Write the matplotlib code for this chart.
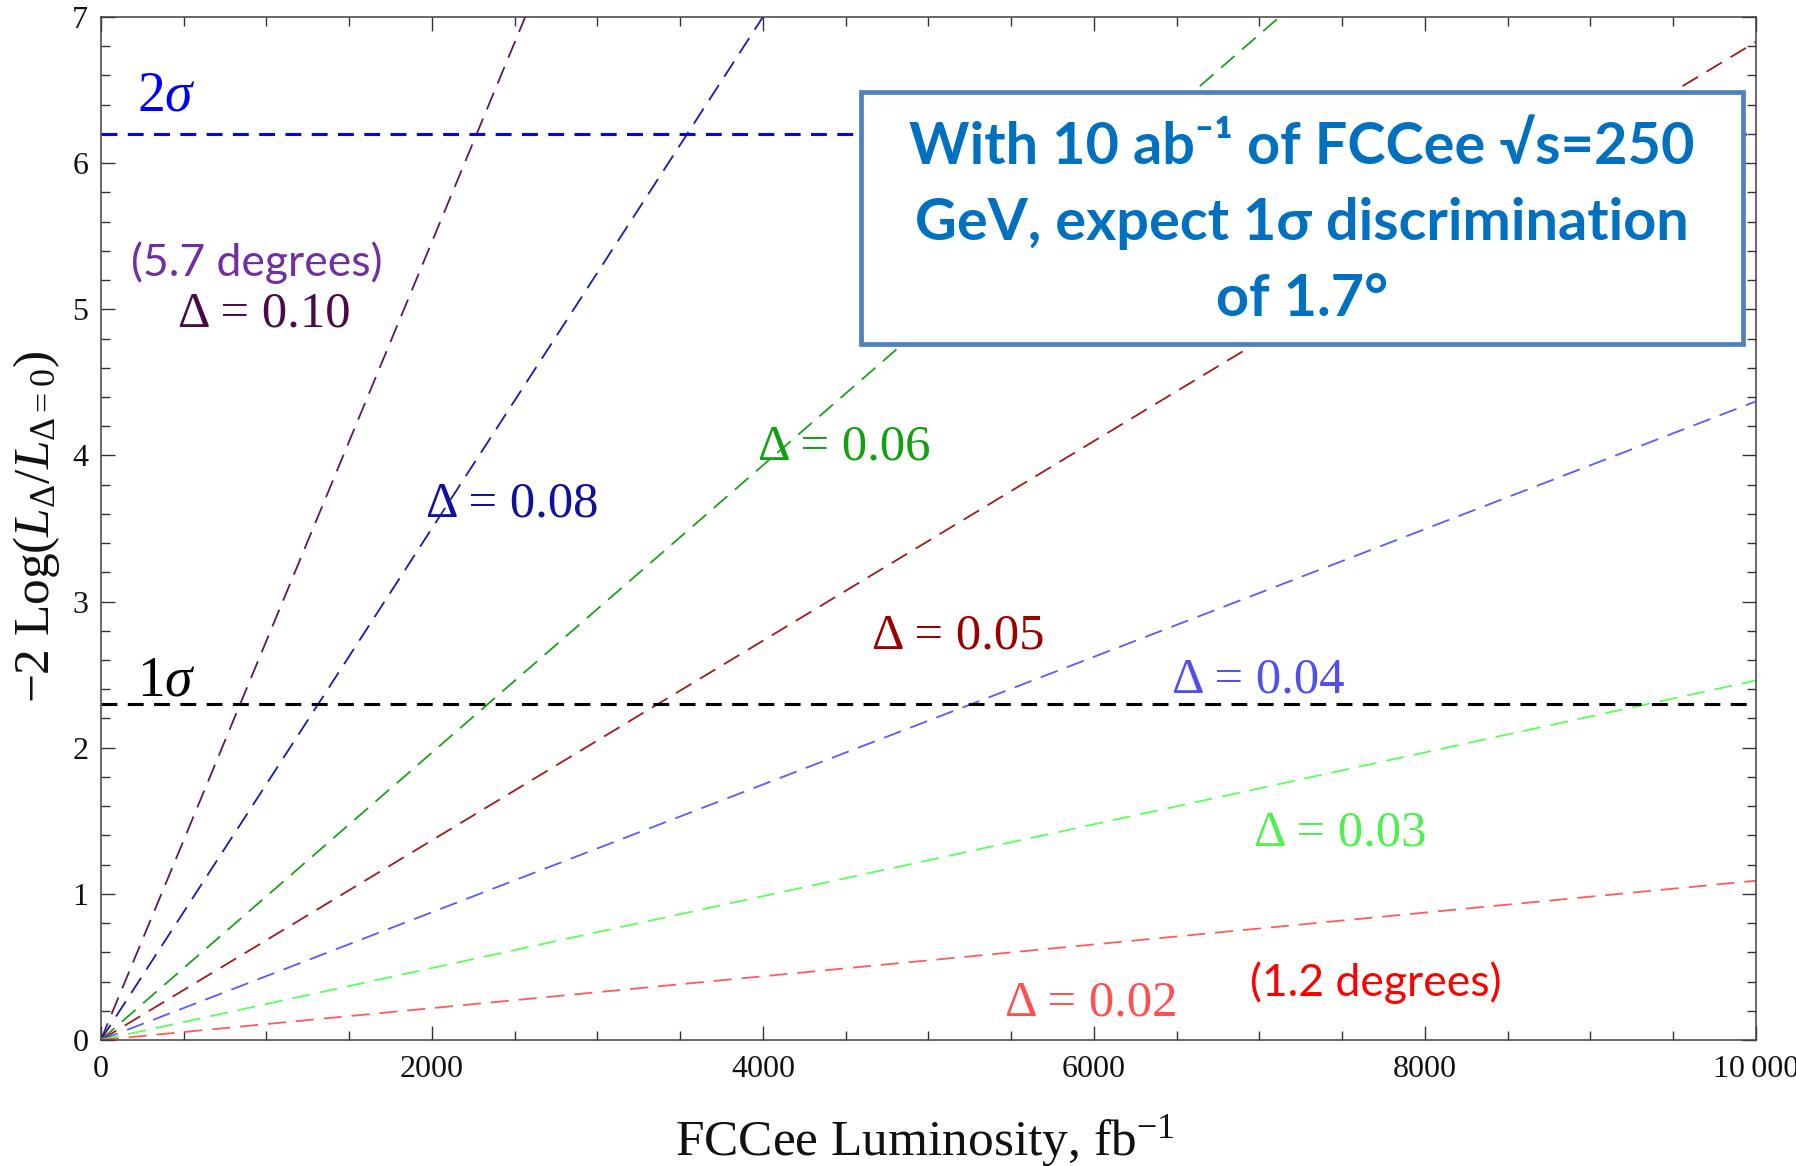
import matplotlib
matplotlib.use("Agg")
import matplotlib.pyplot as plt
from matplotlib.patches import Rectangle
from matplotlib.ticker import MultipleLocator

W, H = 1796, 1166
plt.rcParams['mathtext.fontset'] = 'custom'
plt.rcParams['mathtext.rm'] = 'Liberation Serif'
plt.rcParams['mathtext.it'] = 'Liberation Serif:italic'
plt.rcParams['mathtext.bf'] = 'Liberation Serif:bold'
plt.rcParams['font.family'] = ['Liberation Serif', 'DejaVu Serif']

# ---------------- data ----------------
delta_labels = ["Δ = 0.10", "Δ = 0.08", "Δ = 0.06", "Δ = 0.05", "Δ = 0.04", "Δ = 0.03", "Δ = 0.02"]
lumi_range = [0, 10000]
# -2 Log(L_D/L_0) reached at the end of the luminosity range (lines are straight from origin)
chi2_at_end = [27.3, 17.5, 9.83, 6.83, 4.37, 2.46, 1.09]
line_colors = ["#5a1a5a", "#1a1aaa", "#1aa01a", "#a01a1a", "#5a5aff", "#5aff5a", "#ff5a5a"]
label_colors = ["#4a0a48", "#10109a", "#10a010", "#9a0000", "#5050f0", "#50f050", "#ff5050"]
label_pos_x = [990, 2484, 4491, 5183, 6990, 7488, 5986]
label_pos_y = [4.88, 3.58, 3.97, 2.68, 2.38, 1.33, 0.17]

sigma_levels = [2.30, 6.20]
sigma_texts = [r"$1\sigma$", r"$2\sigma$"]
sigma_colors = ["#000000", "#0000ff"]
sigma_text_y = [2.36, 6.36]

x_ticks = [0, 2000, 4000, 6000, 8000, 10000]
x_tick_labels = ["0", "2000", "4000", "6000", "8000", "10\u2009000"]
y_ticks = [0, 1, 2, 3, 4, 5, 6, 7]
y_tick_labels = ["0", "1", "2", "3", "4", "5", "6", "7"]

note_texts = ["(5.7 degrees)", "(1.2 degrees)"]
note_colors = ["#7030a0", "#ff0000"]
note_x = [941, 7702]
note_y = [5.23, 0.30]

box_lines = ["With 10 ab\u207b\u00b9 of FCCee \u221as=250",
             "GeV, expect 1\u03c3 discrimination",
             "of 1.7\u00b0"]

# ---------------- figure ----------------
fig = plt.figure(figsize=(W / 100, H / 100), dpi=100)
L, R, T, B = 100.8, 1756, 17, 1040
ax = fig.add_axes([L / W, 1 - B / H, (R - L) / W, (B - T) / H])
ax.set_xlim(0, 10000)
ax.set_ylim(0, 7)

for v, c in zip(chi2_at_end, line_colors):
    ax.plot(lumi_range, [0, v], color=c, lw=1.3, dashes=(10, 5.5), zorder=2)

for lvl, c in zip(sigma_levels, sigma_colors):
    ax.axhline(lvl, color=c, lw=2.2, dashes=(5.2, 3.4), zorder=2)

for t, c, yy in zip(sigma_texts, sigma_colors, sigma_text_y):
    ax.text(394, yy, t, color=c, fontsize=40, ha='center', va='baseline', zorder=3)

for t, c, xx, yy in zip(delta_labels, label_colors, label_pos_x, label_pos_y):
    ax.text(xx, yy, t, color=c, fontsize=36.5, ha='center', va='baseline', zorder=3)

for t, c, xx, yy in zip(note_texts, note_colors, note_x, note_y):
    ax.text(xx, yy, t, color=c, fontsize=32, ha='center', va='baseline',
            family=['Lato', 'DejaVu Sans'], zorder=3)

# annotation box
bx0, bx1 = (861 - L) / (R - L), (1743 - L) / (R - L)
by1, by0 = (B - 92) / (B - T), (B - 344) / (B - T)
ax.add_patch(Rectangle((bx0, by0), bx1 - bx0, by1 - by0, transform=ax.transAxes,
                       facecolor='white', edgecolor='#4f81bd', lw=3.4, zorder=5))
box_line_y = [(B - 147) / (B - T), (B - 224) / (B - T), (B - 300) / (B - T)]
for t, yy in zip(box_lines, box_line_y):
    ax.text((1302 - L) / (R - L), yy, t, transform=ax.transAxes, color='#0070c0',
            fontsize=41.5, fontweight='bold', ha='center', va='center',
            family=['Lato', 'DejaVu Sans'], zorder=6)

# axes styling
ax.set_xticks(x_ticks, x_tick_labels)
ax.set_yticks(y_ticks, y_tick_labels)
ax.xaxis.set_minor_locator(MultipleLocator(500))
ax.yaxis.set_minor_locator(MultipleLocator(0.2))
ax.tick_params(which='both', direction='in', top=True, right=True, color='#333333', width=1.0)
ax.tick_params(which='major', length=10)
ax.tick_params(which='minor', length=6.5)
ax.tick_params(axis='x', which='major', labelsize=23, pad=11, labelcolor='#111111')
ax.tick_params(axis='y', which='major', labelsize=23, pad=9, labelcolor='#111111')
for s in ax.spines.values():
    s.set_color('#404040')
    s.set_linewidth(1.1)

fig.text(925 / W, 1 - 1141 / H, r"FCCee Luminosity, fb$^{-1}$", fontsize=37,
         ha='center', va='center', color='#111111')
fig.text(37 / W, 1 - 527 / H, r"$-2\ \mathrm{Log}(L_{\Delta}/L_{\Delta=0})$", fontsize=37,
         rotation=90, ha='center', va='center', color='#111111')

fig.savefig("out.png", dpi=100, facecolor='white')
